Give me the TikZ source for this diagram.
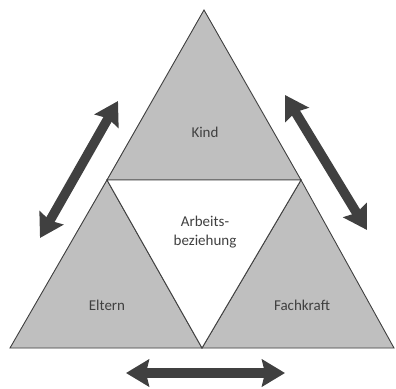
\documentclass[tikz,border=0pt]{standalone}
\usepackage{fontspec}
\setmainfont{Carlito}
\usetikzlibrary{arrows.meta}
\definecolor{trigray}{HTML}{BFBFBF}
\definecolor{darkgray}{HTML}{404040}
\tikzset{
  part/.style={draw=darkgray, line width=0.9pt, fill=trigray, line join=miter},
  inner/.style={draw=darkgray, line width=0.9pt, fill=white},
  txt/.style={text=darkgray, font=\fontsize{15}{19}\selectfont, align=center},
  rel/.style={draw=darkgray, line width=9.5pt,
    {Stealth[width=27pt,length=23pt,inset=3pt]}-{Stealth[width=27pt,length=23pt,inset=3pt]}}
}
\begin{document}
\begin{tikzpicture}[x=1pt, y=-1pt]
    \useasboundingbox (0, 0) rectangle (396, 388);

    % corners of the big triangle
    \coordinate (top) at (204, 10);
    \coordinate (bl) at (10, 348);
    \coordinate (br) at (394, 348);
    \coordinate (ml) at (107, 180);
    \coordinate (mr) at (301, 180);
    \coordinate (mb) at (202, 348);

    \fill [trigray] (top) -- (bl) -- (br) -- cycle;
    \draw [part] (top) -- (ml) -- (mr) -- cycle;
    \draw [part] (ml) -- (bl) -- (mb) -- cycle;
    \draw [part] (mr) -- (mb) -- (br) -- cycle;
    \draw [inner] (ml) -- (mr) -- (mb) -- cycle;

    \node [txt] (kind) at (205, 132) {Kind};
    \node [txt] (arbeit) at (205, 232) {Arbeits-\\beziehung};
    \node [txt] (eltern) at (107, 305) {Eltern};
    \node [txt] (fachkraft) at (302, 305) {Fachkraft};

    % relations
    \coordinate (a1) at (118, 101);
    \coordinate (a2) at (40, 238);
    \draw [rel] (a1) to (a2);
    \coordinate (b1) at (285, 95);
    \coordinate (b2) at (367, 230);
    \draw [rel] (b1) to (b2);
    \coordinate (c1) at (126, 373);
    \coordinate (c2) at (285, 373);
    \draw [rel] (c1) to (c2);
\end{tikzpicture}
\end{document}
